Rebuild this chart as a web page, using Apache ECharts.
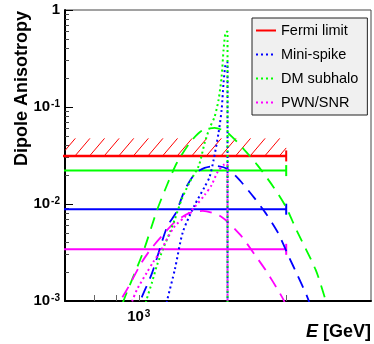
<!DOCTYPE html>
<html><head><meta charset="utf-8">
<script src="https://cdn.jsdelivr.net/npm/echarts@6/dist/echarts.min.js"></script>
<style>html,body{margin:0;padding:0;background:#fff}#c{width:374px;height:344px}</style>
</head><body><div id="c"></div>
<script>
// ---- axis ticks ----
const xTickValues = [500, 700, 1000, 10000];
const xLabelValues = [1000];
const yMajorValues = [0.001, 0.01, 0.1, 1];
const yMinorValues = [0.002,0.003,0.004,0.005,0.006,0.007,0.008,0.009,
                      0.02,0.03,0.04,0.05,0.06,0.07,0.08,0.09,
                      0.2,0.3,0.4,0.5,0.6,0.7,0.8,0.9];
// ---- horizontal sensitivity lines ----
const limitEnergyRange = [200, 10000];
const fermiLimit = 0.0313;
const fermiHatchTop = 0.0475;
const subhaloLevel = 0.0221;
const miniSpikeLevel = 0.00884;
const pwnLevel = 0.00341;
// ---- curves [E (GeV), dipole anisotropy] ----
const subhaloDashed = [[700,0.0006],[787,0.001],[1072,0.00321],[1332,0.00869],[1555,0.0157],[1815,0.0266],[2219,0.0427],[2672,0.0568],[3269,0.061],[4000,0.0542],[5200,0.0362],[6362,0.0253],[8277,0.01466],[9965,0.00933],[11646,0.00553],[15857,0.00209],[18514,0.00102],[20000,0.0007]];
const miniSpikeDashed = [[950,0.0007],[1023,0.001],[1232,0.00195],[1555,0.0058],[1786,0.00809],[2055,0.014],[2399,0.0205],[2799,0.0236],[3319,0.0247],[4000,0.023],[4817,0.0177],[6077,0.01156],[7318,0.00791],[8813,0.00503],[10444,0.00284],[11822,0.0019],[13805,0.00113],[15000,0.0008]];
const pwnDashed = [[700,0.0007],[751,0.001],[850,0.00139],[1023,0.00236],[1195,0.00336],[1438,0.00469],[1760,0.00653],[2219,0.00809],[2715,0.00849],[3647,0.00736],[4885,0.0048],[6077,0.00305],[7318,0.00204],[8950,0.00124],[9663,0.001],[10500,0.0007]];
const miniSpikeDotted = [[1450,0.0006],[1555,0.001],[1760,0.00214],[1991,0.00515],[2399,0.0098],[2799,0.01502],[3026,0.0191],[3219,0.0285],[3477,0.0542],[3647,0.0935],[3760,0.178],[3877,0.273],[4000,0.29],[4000,0.0001]];
const subhaloDotted = [[1050,0.0006],[1124,0.001],[1232,0.00157],[1332,0.00236],[1462,0.00344],[1629,0.00515],[1760,0.00702],[1961,0.0113],[2219,0.0169],[2552,0.0247],[2799,0.0427],[3026,0.061],[3269,0.0792],[3477,0.1186],[3647,0.205],[3760,0.389],[3877,0.583],[4000,0.6],[4000,0.0001]];
const pwnDotted = [[850,0.0007],[904,0.001],[977,0.00133],[1140,0.00199],[1252,0.00252],[1395,0.00321],[1555,0.00436],[1760,0.00594],[2055,0.00736],[2399,0.00933],[2799,0.0124],[3119,0.0157],[3427,0.0214],[3760,0.0253],[4000,0.026],[4000,0.0001]];

const FONT = 'Liberation Sans, Arial, Helvetica, sans-serif';
const RED='#ff0000', GREEN='#00ff00', BLUE='#0000ff', MAG='#ff00ff';
const DOT=[2,3], DASH=[12,8];

function levelLine(name, level, color, width){
  return {
    name, type:'line', data:[[limitEnergyRange[0],level],{value:[limitEnergyRange[1],level],symbol:'rect',symbolSize:[2,11]}],
    symbol:'none', showSymbol:true, lineStyle:{color, width, type:'solid'}, itemStyle:{color},
    silent:true, z:3, animation:false
  };
}
function curve(name, data, color, type, width){
  return {name, type:'line', data, symbol:'none', smooth:0.25, lineStyle:{color, width, type},
          itemStyle:{color}, silent:true, z:4, animation:false};
}
function renderHatch(params, api){
  const lo = api.value(2), hi = api.value(3);
  const pL = api.coord([api.value(0), lo]);
  const pR = api.coord([api.value(1), hi]);
  const cs = params.coordSys;
  const xL = Math.max(pL[0], cs.x), xR = Math.min(pR[0], cs.x + cs.width);
  const yb = pL[1], yt = pR[1];
  const h = yb - yt, dx = h * 0.85, step = 14.6;
  const children = [];
  for (let x0 = xL - 4.6; x0 < xR; x0 += step) {
    let x1 = x0, y1 = yb, x2 = x0 + dx, y2 = yt;
    if (x1 < xL) { const t = (xL - x0) / dx; x1 = xL; y1 = yb - t * h; }
    if (x2 > xR) { const t = (xR - x0) / dx; x2 = xR; y2 = yb - t * h; }
    if (x1 >= x2) continue;
    children.push({type:'line', shape:{x1,y1,x2,y2}, style:{stroke:RED, lineWidth:1}});
  }
  return {type:'group', children};
}
const supRich = {
  b:{fontSize:15, fontWeight:'bold', fontFamily:FONT, color:'#000', lineHeight:15, verticalAlign:'bottom'},
  s:{fontSize:10, fontWeight:'bold', fontFamily:FONT, color:'#000', lineHeight:10, verticalAlign:'top', padding:[0,0,0,1]}
};
function powLabel(v){
  const e = Math.round(Math.log10(v));
  if (e === 0) return '{b|1}';
  return '{b|10}{s|' + e + '}';
}

const chart = echarts.init(document.getElementById('c'), null, {renderer:'canvas'});
chart.setOption({
  animation:false,
  backgroundColor:'#fff',
  grid:{left:65, right:3, top:10, bottom:43, show:true, borderColor:'#444', borderWidth:1, backgroundColor:'transparent'},
  xAxis:[{
    type:'log', logBase:10, min:316, max:37600,
    axisLine:{show:true, lineStyle:{color:'#000', width:2}},
    axisTick:{show:true, inside:true, length:6, customValues:xTickValues, lineStyle:{color:'#666', width:1}},
    axisLabel:{show:true, customValues:xLabelValues, formatter:powLabel, rich:supRich, margin:8},
    splitLine:{show:false}, minorTick:{show:false}
  }],
  yAxis:[{
    type:'log', logBase:10, min:0.001, max:1,
    axisLine:{show:true, lineStyle:{color:'#000', width:2}},
    axisTick:{show:true, inside:true, length:8, customValues:yMajorValues, lineStyle:{color:'#000', width:1}},
    axisLabel:{show:true, customValues:yMajorValues, formatter:powLabel, rich:supRich, margin:5},
    splitLine:{show:false}
  },{
    type:'log', logBase:10, min:0.001, max:1, position:'left',
    axisLine:{show:false},
    axisTick:{show:true, inside:true, length:4, customValues:yMinorValues, lineStyle:{color:'#444', width:1}},
    axisLabel:{show:false}, splitLine:{show:false}
  }],
  legend:{
    data:['Fermi limit','Mini-spike','DM subhalo','PWN/SNR'],
    orient:'vertical', left:252, top:18, itemWidth:20, itemHeight:14, itemGap:9,
    padding:[5,9,5,3], backgroundColor:'#f0f0f0', borderColor:'#222', borderWidth:1,
    itemStyle:{opacity:0}, lineStyle:{width:2},
    textStyle:{fontFamily:FONT, fontSize:14.5, color:'#000'}, selectedMode:false
  },
  graphic:[
    {type:'text', x:22, y:88.5, rotation:Math.PI/2,
     style:{text:'Dipole Anisotropy', font:'bold 18px '+FONT, fill:'#000', align:'center', verticalAlign:'middle'}},
    {type:'text', x:371, y:332,
     style:{text:'{i|E} [GeV]', align:'right', verticalAlign:'middle', font:'bold 18px '+FONT, fill:'#000',
            rich:{i:{fontStyle:'italic', fontWeight:'bold', fontSize:18, fontFamily:FONT}}}}
  ],
  series:[
    {name:'Fermi hatch', type:'custom', renderItem:renderHatch, data:[[limitEnergyRange[0], limitEnergyRange[1], fermiLimit, fermiHatchTop]], silent:true, z:2, clip:true},
    levelLine('Fermi limit', fermiLimit, RED, 2.5),
    levelLine('DM subhalo level', subhaloLevel, GREEN, 2),
    levelLine('Mini-spike level', miniSpikeLevel, BLUE, 2),
    levelLine('PWN/SNR level', pwnLevel, MAG, 2),
    curve('DM subhalo dashed', subhaloDashed, GREEN, DASH, 1.8),
    curve('Mini-spike dashed', miniSpikeDashed, BLUE, DASH, 1.8),
    curve('PWN/SNR dashed', pwnDashed, MAG, DASH, 1.8),
    curve('Mini-spike', miniSpikeDotted, BLUE, DOT, 2),
    curve('DM subhalo', subhaloDotted, GREEN, DOT, 2),
    curve('PWN/SNR', pwnDotted, MAG, DOT, 2)
  ]
});
</script></body></html>
